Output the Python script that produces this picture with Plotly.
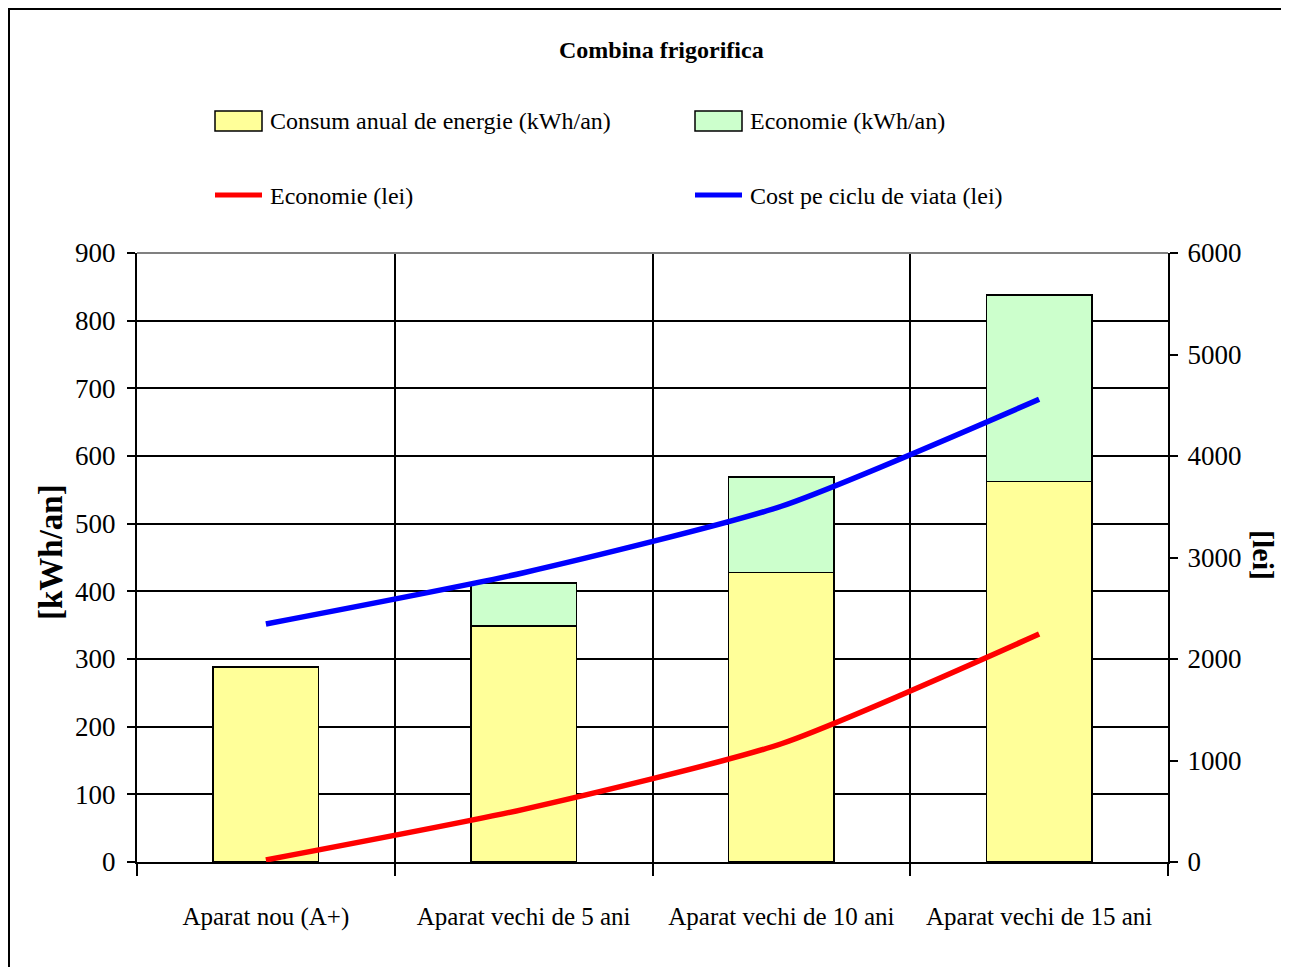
import plotly.graph_objects as go

# ---- data ----
categories = ["Aparat nou (A+)", "Aparat vechi de 5 ani",
              "Aparat vechi de 10 ani", "Aparat vechi de 15 ani"]
consum_kwh = [288, 349, 428, 562]          # Consum anual de energie (kWh/an)
economie_kwh = [0, 63, 141, 276]           # Economie (kWh/an)
economie_lei = [20, 519, 1165, 2246]       # Economie (lei)
cost_ciclu_lei = [2345, 2850, 3505, 4559]  # Cost pe ciclu de viata (lei)
kwh_ticks = list(range(0, 901, 100))
lei_ticks = list(range(0, 6001, 1000))

title_text = "Combina frigorifica"
legend_names = ["Consum anual de energie (kWh/an)", "Economie (kWh/an)",
                "Economie (lei)", "Cost pe ciclu de viata (lei)"]

# ---- geometry (page pixels; the page body adds an 8px offset) ----
OFF = 8
W, H = 1289 - OFF, 967 - OFF
L, R, T, B = 137, 1168, 253, 862


def px(x):
    return (x - L) / (R - L)


def py(y):
    return (B - y) / (B - T)


FONT = "Liberation Serif, Times New Roman, serif"
YELLOW = "#FFFF99"
GREEN = "#CCFFCC"

fig = go.Figure()
fig.add_trace(go.Bar(
    x=categories, y=consum_kwh, name=legend_names[0],
    marker=dict(color=YELLOW, line=dict(color="black", width=1.5)),
    width=0.41,
))
fig.add_trace(go.Bar(
    x=categories, y=[v if v else None for v in economie_kwh], name=legend_names[1],
    marker=dict(color=GREEN, line=dict(color="black", width=1.5)),
    width=0.41,
))
fig.add_trace(go.Scatter(
    x=categories, y=economie_lei, name=legend_names[2], yaxis="y2",
    mode="lines", line=dict(color="#FF0000", width=5.5, shape="spline", smoothing=0.6),
))
fig.add_trace(go.Scatter(
    x=categories, y=cost_ciclu_lei, name=legend_names[3], yaxis="y2",
    mode="lines", line=dict(color="#0000FF", width=5.5, shape="spline", smoothing=0.6),
))

shapes = []
annotations = []

# outer frame
shapes.append(dict(type="rect", xref="paper", yref="paper",
                   x0=px(9), x1=px(1320), y0=py(1000), y1=py(9),
                   line=dict(color="black", width=2), fillcolor="rgba(0,0,0,0)",
                   layer="above"))
# top border of plot area (gray)
shapes.append(dict(type="line", xref="paper", yref="paper",
                   x0=0, x1=1, y0=1, y1=1,
                   line=dict(color="#808080", width=2), layer="above"))

# title
annotations.append(dict(text="<b>" + title_text + "</b>", xref="paper", yref="paper",
                        x=px(661), y=py(50), showarrow=False,
                        xanchor="center", yanchor="middle",
                        font=dict(family=FONT, size=24, color="black")))

# manual legend
leg = [
    (215, 121, "box", YELLOW, legend_names[0]),
    (695, 121, "box", GREEN, legend_names[1]),
    (215, 196, "line", "#FF0000", legend_names[2]),
    (695, 196, "line", "#0000FF", legend_names[3]),
]
for x0, yc, kind, col, name in leg:
    if kind == "box":
        shapes.append(dict(type="rect", xref="paper", yref="paper",
                           x0=px(x0), x1=px(x0 + 47), y0=py(yc + 10), y1=py(yc - 10),
                           fillcolor=col, line=dict(color="black", width=1.5)))
    else:
        shapes.append(dict(type="line", xref="paper", yref="paper",
                           x0=px(x0), x1=px(x0 + 47), y0=py(yc - 1), y1=py(yc - 1),
                           line=dict(color=col, width=5)))
    annotations.append(dict(text=name, xref="paper", yref="paper",
                            x=px(x0 + 53), y=py(yc), showarrow=False,
                            xanchor="left", yanchor="middle",
                            font=dict(family=FONT, size=24, color="black")))

# axis titles
annotations.append(dict(text="<b>[kWh/an]</b>", xref="paper", yref="paper",
                        x=px(51), y=py(552), showarrow=False, textangle=-90,
                        xanchor="center", yanchor="middle",
                        font=dict(family=FONT, size=33, color="black")))
annotations.append(dict(text="<b>[lei]</b>", xref="paper", yref="paper",
                        x=px(1264), y=py(555), showarrow=False, textangle=90,
                        xanchor="center", yanchor="middle",
                        font=dict(family=FONT, size=30, color="black")))

fig.update_layout(
    width=W, height=H,
    margin=dict(l=L - OFF, r=W - (R - OFF), t=T - OFF, b=H - (B - OFF), autoexpand=False),
    paper_bgcolor="white", plot_bgcolor="white",
    barmode="stack", showlegend=False,
    font=dict(family=FONT, size=24, color="black"),
    xaxis=dict(type="category", tickson="boundaries", range=[-0.5, 3.5],
               showgrid=True, gridcolor="black", gridwidth=1.5,
               ticks="outside", ticklen=12, tickcolor="black", tickwidth=1.5,
               showline=True, linecolor="black", linewidth=2,
               ticklabelstandoff=31, zeroline=False,
               tickfont=dict(family=FONT, size=25, color="black")),
    yaxis=dict(range=[0, 900], tickvals=kwh_ticks,
               showgrid=True, gridcolor="black", gridwidth=1.5,
               ticks="outside", ticklen=8, tickcolor="black", tickwidth=1.5,
               showline=True, linecolor="black", linewidth=2, zeroline=False,
               ticklabelstandoff=6,
               tickfont=dict(family=FONT, size=27, color="black")),
    yaxis2=dict(range=[0, 6000], tickvals=lei_ticks, overlaying="y", side="right",
                showgrid=False, ticks="outside", ticklen=8, tickcolor="black",
                tickwidth=1.5, showline=True, linecolor="black", linewidth=2,
                zeroline=False, ticklabelstandoff=4,
                tickfont=dict(family=FONT, size=27, color="black")),
    shapes=shapes, annotations=annotations,
)

fig.write_html("out.html")
